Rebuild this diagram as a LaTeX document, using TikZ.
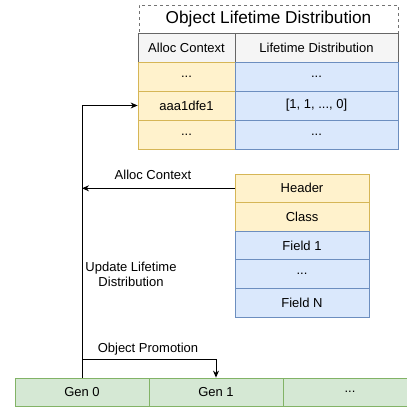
\documentclass[tikz,border=0pt]{standalone}
\usepackage{fontspec}
\setmainfont{Liberation Sans}
\usetikzlibrary{arrows.meta}
\definecolor{yfill}{HTML}{FFF2CC}
\definecolor{ydraw}{HTML}{D6B656}
\definecolor{bfill}{HTML}{DAE8FC}
\definecolor{bdraw}{HTML}{6C8EBF}
\definecolor{gfill}{HTML}{D5E8D4}
\definecolor{gdraw}{HTML}{82B366}
\definecolor{hfill}{HTML}{F5F5F5}
\definecolor{hdraw}{HTML}{666666}
\begin{document}
\begin{tikzpicture}[x=1pt,y=-1pt,
  cell/.style={draw,line width=0.8pt,minimum height=29pt,inner sep=0pt,
    font=\fontsize{13}{15.5}\selectfont},
  ycell/.style={cell,fill=yfill,draw=ydraw},
  bcell/.style={cell,fill=bfill,draw=bdraw},
  hcell/.style={cell,fill=hfill,draw=hdraw},
  gcell/.style={cell,fill=gfill,draw=gdraw,minimum width=134pt,minimum height=28pt},
  ocell/.style={minimum width=134pt,minimum height=28.6pt},
  lbl/.style={font=\fontsize{13}{15.5}\selectfont,inner sep=0pt},
  wire/.style={line width=0.9pt,-{Stealth[length=7pt,width=6pt]}}]
\useasboundingbox (0,0) rectangle (407,407);
% lifetime table
\node[cell,draw=black!55,dashed,minimum width=259pt,minimum height=28pt,
  font=\fontsize{17.2}{20}\selectfont] (title) at (268.5,19) {Object Lifetime Distribution};
\node[hcell,minimum width=97pt] (hctx) at (186.5,48) {Alloc Context};
\node[hcell,minimum width=163pt] (hdist) at (316.5,48) {Lifetime Distribution};
\node[ycell,minimum width=97pt] (ctxa) at (186.5,77) {...};
\node[bcell,minimum width=163pt] (dista) at (316.5,77) {...};
\node[ycell,minimum width=97pt] (ctxb) at (186.5,105.5) {aaa1dfe1};
\node[bcell,minimum width=163pt] (distb) at (316.5,105.5) {[1, 1, ..., 0]};
\node[ycell,minimum width=97pt] (ctxc) at (186.5,134.5) {...};
\node[bcell,minimum width=163pt] (distc) at (316.5,134.5) {...};
% object layout
\node[ycell,ocell] (header) at (302,188.3) {Header};
\node[ycell,ocell] (class) at (302,216.9) {Class};
\node[bcell,ocell] (field1) at (302,245.5) {Field 1};
\node[bcell,ocell] (fdots) at (302,274.1) {...};
\node[bcell,ocell] (fieldn) at (302,302.7) {Field N};
% generations
\node[gcell] (gen0) at (82,392) {Gen 0};
\node[gcell] (gen1) at (216,392) {Gen 1};
\node[gcell] (gen2) at (350,392) {...};
% connectors
\coordinate (bend) at (gen0.north |- ctxb.west);
\coordinate (hit) at (gen0.north |- header.west);
\coordinate (promo) at (82,359);
\draw[wire] (gen0.north) -- (bend) -- (ctxb.west);
\draw[wire] (header.west) -- (hit);
\draw[wire] (promo) -| (gen1.north);
\node[lbl] (lctx) at (153,175) {Alloc Context};
\node[lbl,align=center] (lupd) at (131,274.5) {Update Lifetime\\Distribution};
\node[lbl] (lpromo) at (148,349) {Object Promotion};
\end{tikzpicture}
\end{document}
